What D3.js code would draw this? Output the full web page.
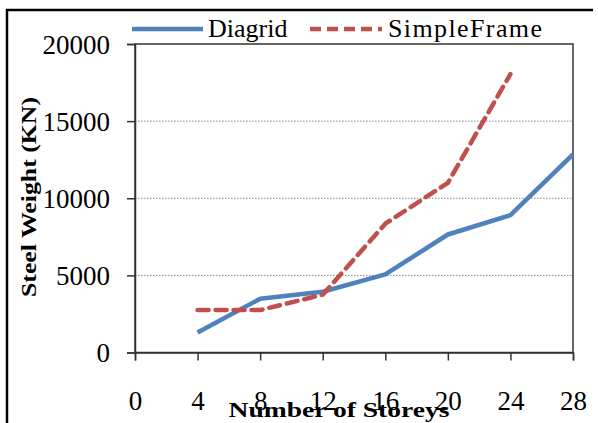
<!DOCTYPE html>
<html><head><meta charset="utf-8">
<script src="https://cdn.jsdelivr.net/npm/d3@7/dist/d3.min.js"></script>
<style>body{margin:0;background:#fff}svg{display:block}svg text{font-family:"Liberation Serif","Times New Roman",Tinos,Times,serif !important}</style>
</head><body>
<svg id="c" width="598" height="423"></svg>
<script>
const storeys = [4, 8, 12, 16, 20, 24, 28];
const diagrid = [1300, 3480, 3940, 5060, 7650, 8900, 12850];
const simpleFrameX = [4, 8, 12, 16, 20, 24];
const simpleFrame = [2750, 2750, 3750, 8350, 11000, 18050];
const xTicks = [0, 4, 8, 12, 16, 20, 24, 28];
const yTicks = [0, 5000, 10000, 15000, 20000];
const seriesNames = ["Diagrid", "SimpleFrame"];
const colors = ["#4F81BD", "#C0504D"];
const FONT = "'Liberation Serif', 'Times New Roman', Tinos, Times, serif";

const svg = d3.select("#c");
const L = 135, R = 573, T = 44, B = 352.5;
const x = d3.scaleLinear().domain([0, 28]).range([L, R]);
const y = d3.scaleLinear().domain([0, 20000]).range([B, T]);

// outer frame
svg.append("line").attr("x1", 6).attr("x2", 593).attr("y1", 10).attr("y2", 10).attr("stroke", "#000").attr("stroke-width", 2.5);
svg.append("line").attr("x1", 7).attr("x2", 7).attr("y1", 9).attr("y2", 423).attr("stroke", "#000").attr("stroke-width", 2.5);

// gridlines
svg.append("g").selectAll("line").data(yTicks.filter(d => d > 0 && d < 20000)).join("line")
  .attr("x1", L).attr("x2", R).attr("y1", d => y(d)).attr("y2", d => y(d))
  .attr("stroke", "#888").attr("stroke-width", 1).attr("stroke-dasharray", "1.5,1.5");

// plot box
svg.append("rect").attr("x", L).attr("y", T).attr("width", R - L).attr("height", B - T)
  .attr("fill", "none").attr("stroke", "#333").attr("stroke-width", 1.5);

// y axis
const yAxis = svg.append("g").attr("transform", `translate(${L},0)`)
  .call(d3.axisLeft(y).tickValues(yTicks).tickSize(8).tickPadding(17).tickFormat(d3.format("d")));
yAxis.attr("font-family", FONT);
yAxis.select(".domain").attr("stroke", "#333").attr("stroke-width", 1.5);
yAxis.selectAll(".tick line").attr("stroke", "#333").attr("stroke-width", 1.5);
yAxis.selectAll("text").attr("font-size", 27).attr("fill", "#000").style("font-family", FONT).attr("dy", "0.34em");

// x axis
const xAxis = svg.append("g").attr("transform", `translate(0,${B})`)
  .call(d3.axisBottom(x).tickValues(xTicks).tickSize(8).tickPadding(30));
xAxis.attr("font-family", FONT);
xAxis.select(".domain").attr("stroke", "#333").attr("stroke-width", 1.5);
xAxis.selectAll(".tick line").attr("stroke", "#333").attr("stroke-width", 1.5);
xAxis.selectAll("text").attr("font-size", 27).attr("fill", "#000").style("font-family", FONT).attr("dy", "0.71em");

// lines
const line = d3.line().x(d => x(d[0])).y(d => y(d[1]));
svg.append("path").datum(storeys.map((s, i) => [s, diagrid[i]]))
  .attr("d", line).attr("fill", "none").attr("stroke", colors[0]).attr("stroke-width", 4.5).attr("stroke-linejoin", "round");
svg.append("path").datum(simpleFrameX.map((s, i) => [s, simpleFrame[i]]))
  .attr("d", line).attr("fill", "none").attr("stroke", colors[1]).attr("stroke-width", 4.5)
  .attr("stroke-dasharray", "11,7").attr("stroke-linecap", "round").attr("stroke-linejoin", "round");

// legend
const lg = svg.append("g").style("font-family", FONT);
lg.append("line").attr("x1", 132).attr("x2", 203).attr("y1", 29).attr("y2", 29).attr("stroke", colors[0]).attr("stroke-width", 4.5);
lg.append("text").attr("x", 208).attr("y", 37).attr("font-size", 26).style("font-family", FONT).text(seriesNames[0]);
lg.append("line").attr("x1", 310).attr("x2", 382).attr("y1", 29).attr("y2", 29).attr("stroke", colors[1]).attr("stroke-width", 4.5).attr("stroke-dasharray", "11,6");
lg.append("text").attr("x", 388).attr("y", 37).attr("font-size", 26).style("font-family", FONT).text(seriesNames[1])
  .attr("textLength", 154).attr("lengthAdjust", "spacing");

// axis titles
svg.append("text").attr("transform", "translate(36,197) rotate(-90)").attr("text-anchor", "middle")
  .attr("font-size", 22).attr("font-weight", "bold").style("font-family", FONT).text("Steel Weight (KN)")
  .attr("textLength", 200).attr("lengthAdjust", "spacingAndGlyphs");
svg.append("text").attr("x", 339).attr("y", 417).attr("text-anchor", "middle")
  .attr("font-size", 22).attr("font-weight", "bold").style("font-family", FONT).text("Number of Storeys")
  .attr("textLength", 221).attr("lengthAdjust", "spacingAndGlyphs");
</script>
</body></html>
